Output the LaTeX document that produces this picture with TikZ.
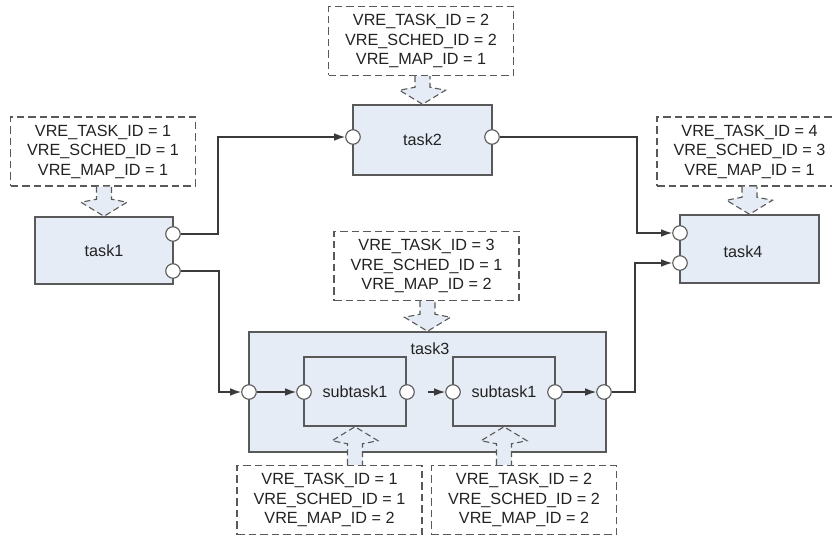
\documentclass[tikz,border=0pt]{standalone}
\usepackage{fontspec}
\setmainfont{Liberation Sans}
\usetikzlibrary{calc,arrows.meta}
\definecolor{boxfill}{HTML}{E6ECF6}
\definecolor{edge}{HTML}{595959}
\definecolor{ink}{HTML}{222222}
\definecolor{wire}{HTML}{3A3A3A}

% block arrow from a note (#1) to a task box (#2); #3 = 1 points down, -1 points up
\newcommand\hollowarrow[3]{%
  \draw[hollow] ($(#2 |- #1)+(-7.5,0)$) -- ($(#2)+(-7.5,{-17*(#3)})$)
    -- ($(#2)+(-23,{-14*(#3)})$) -- (#2) -- ($(#2)+(23,{-14*(#3)})$)
    -- ($(#2)+(7.5,{-17*(#3)})$) -- ($(#2 |- #1)+(7.5,0)$);
}

\begin{document}
\begin{tikzpicture}[x=1pt, y=-1pt,
  font=\fontsize{16.2}{19.5}\selectfont,
  taskbox/.style={draw=edge, line width=1.5pt, fill=boxfill, text=ink, inner sep=0pt},
  note/.style={draw=edge, line width=1.2pt, dash pattern=on 7.5pt off 4pt,
    minimum width=185pt, minimum height=69pt, align=center, text=ink, inner sep=0pt},
  port/.style={circle, draw=edge, line width=1.1pt, fill=white, minimum size=14.5pt, inner sep=0pt},
  conn/.style={draw=wire, line width=1.3pt, -{Latex[length=11pt,width=7.5pt]}},
  hollow/.style={draw=edge, line width=1.1pt, dash pattern=on 6pt off 3.5pt, fill=boxfill},
  lbl/.style={text=ink, inner sep=0pt}]

\useasboundingbox (0,0) rectangle (832,537);
\clip (0,0) rectangle (832,537);

% attribute notes
\node[note] (n1) at (103,151.5) {VRE\_TASK\_ID = 1\\VRE\_SCHED\_ID = 1\\VRE\_MAP\_ID = 1};
\node[note] (n2) at (421,41) {VRE\_TASK\_ID = 2\\VRE\_SCHED\_ID = 2\\VRE\_MAP\_ID = 1};
\node[note] (n3) at (426.5,266) {VRE\_TASK\_ID = 3\\VRE\_SCHED\_ID = 1\\VRE\_MAP\_ID = 2};
\node[note] (n4) at (749.5,151.5) {VRE\_TASK\_ID = 4\\VRE\_SCHED\_ID = 3\\VRE\_MAP\_ID = 1};
\node[note] (n5) at (329.5,500) {VRE\_TASK\_ID = 1\\VRE\_SCHED\_ID = 1\\VRE\_MAP\_ID = 2};
\node[note] (n6) at (524,500) {VRE\_TASK\_ID = 2\\VRE\_SCHED\_ID = 2\\VRE\_MAP\_ID = 2};

% tasks
\node[taskbox, minimum width=138pt, minimum height=67pt] (t1) at (104,250.5) {task1};
\node[taskbox, minimum width=139pt, minimum height=70pt] (t2) at (422.5,140) {task2};
\node[taskbox, minimum width=139pt, minimum height=68pt] (t4) at (749.5,249) {};
\node[lbl] (t4lbl) at (743,252) {task4};
\node[taskbox, minimum width=357pt, minimum height=120pt] (t3) at (427.5,392) {};
\node[lbl] (t3lbl) at (430,349) {task3};

% block arrows onto the tasks
\hollowarrow{n1.south}{t1.north}{1}
\hollowarrow{n2.south}{t2.north}{1}
\hollowarrow{n3.south}{t3.north}{1}
\hollowarrow{n4.south}{t4.north}{1}

% subtasks inside task3
\node[taskbox, minimum width=102pt, minimum height=69pt] (sa) at (355,391.5) {subtask1};
\node[taskbox, minimum width=102pt, minimum height=69pt] (sb) at (504,391.5) {subtask1};
\hollowarrow{n5.north}{sa.south}{-1}
\hollowarrow{n6.north}{sb.south}{-1}

% ports
\node[port] (p1a) at (173,234) {};
\node[port] (p1b) at (173,271) {};
\node[port] (p2i) at (353,137) {};
\node[port] (p2o) at (492,137) {};
\node[port] (p4a) at (680,233) {};
\node[port] (p4b) at (680,263) {};
\node[port] (p3i) at (249,392) {};
\node[port] (p3o) at (604,392) {};
\node[port] (pai) at (304,392) {};
\node[port] (pao) at (407,392) {};
\node[port] (pbi) at (453,392) {};
\node[port] (pbo) at (555,392) {};

% bend positions of the routed connectors
\coordinate (xa) at (218,0);
\coordinate (xb) at (219,0);
\coordinate (xc) at (637,0);
\coordinate (xd) at (635,0);

% connectors
\draw[conn] (p1a.east) -| (xa |- p2i.west) -- (p2i.west);
\draw[conn] (p1b.east) -| (xb |- p3i.west) -- (p3i.west);
\draw[conn] (p2o.east) -| (xc |- p4a.west) -- (p4a.west);
\draw[conn] (p3o.east) -| (xd |- p4b.west) -- (p4b.west);
\draw[conn] (p3i.east) -- (pai.west);
\draw[conn, shorten <=13pt] (pao.east) -- (pbi.west);
\draw[conn] (pbo.east) -- (p3o.west);
\end{tikzpicture}
\end{document}
